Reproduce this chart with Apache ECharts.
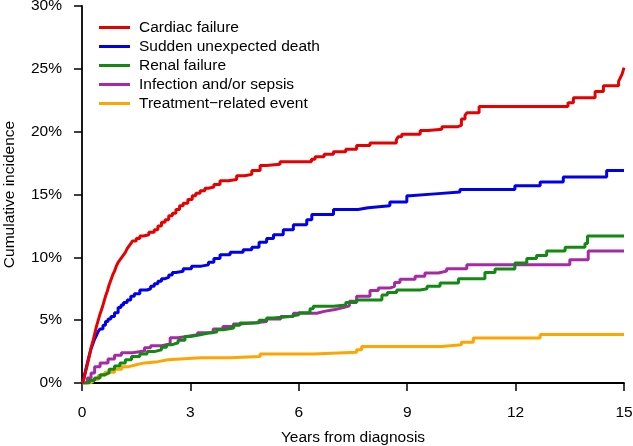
<!DOCTYPE html>
<html lang="en">
<head>
    <meta charset="UTF-8">
    <title>cumulative incidence</title>
    <script src="https://cdn.jsdelivr.net/npm/echarts@6/dist/echarts.min.js"></script>
    <style>
        html, body { margin: 0; padding: 0; background: #fff; }
    </style>
</head>
<body>
<div id="main" style="width:633px;height:446px"></div>
<script>
    // values: [years, cumulative incidence %]
    var xTicks = [0, 3, 6, 9, 12, 15];
    var names = ['Cardiac failure', 'Sudden unexpected death', 'Renal failure',
        'Infection and/or sepsis', 'Treatment\u2212related event'];

    var cardiac = [[0,0],[0.05,0.3],[0.1,0.9],[0.15,1.5],[0.2,2.1],[0.25,2.8],[0.3,3.3],[0.35,3.9],
        [0.4,4.5],[0.45,5.0],[0.5,5.5],[0.55,5.9],[0.6,6.4],[0.65,6.9],[0.7,7.3],[0.75,7.8],[0.8,8.2],
        [0.85,8.6],[0.9,8.9],[0.95,9.3],[1.0,9.6],[1.05,9.8],[1.1,10.0],[1.15,10.2],[1.2,10.4],[1.25,10.7],
        [1.3,10.9],[1.35,11.1],[1.4,11.3],[1.5,11.5],[1.6,11.7],[1.7,11.8],[1.85,12.0],[2.0,12.2],
        [2.1,12.5],[2.2,12.8],[2.3,13.0],[2.4,13.3],[2.5,13.5],[2.6,13.8],[2.7,14.1],[2.8,14.3],
        [2.93,14.6],[3.05,14.9],[3.15,15.1],[3.27,15.3],[3.4,15.5],[3.5,15.6],[3.65,15.8],[3.82,16.1],
        [4.05,16.2],[4.28,16.5],[4.5,16.6],[4.7,16.9],[4.93,17.3],[5.1,17.4],[5.48,17.6],[6.35,17.8],
        [6.45,18.0],[6.7,18.2],[6.96,18.4],[7.3,18.6],[7.6,18.9],[7.97,19.1],[8.7,19.35],[8.75,19.6],
        [8.85,19.8],[9.36,20.1],[9.58,20.2],[9.96,20.4],[10.4,20.5],[10.5,21.0],[10.6,21.3],[10.65,21.5],
        [10.99,22.0],[13.45,22.3],[13.6,22.7],[14.2,23.2],[14.43,23.65],[14.85,24.0],[14.9,24.3],
        [14.95,24.6],[14.98,24.9],[15,25.1]];
    var sudden = [[0,0],[0.05,0.4],[0.1,1.0],[0.15,1.6],[0.2,2.2],[0.25,2.7],[0.3,3.1],[0.35,3.5],
        [0.4,3.8],[0.45,4.1],[0.5,4.3],[0.58,4.6],[0.65,4.9],[0.72,5.1],[0.8,5.3],[0.9,5.6],[1.0,6.0],
        [1.08,6.2],[1.15,6.4],[1.25,6.6],[1.35,6.9],[1.45,7.1],[1.6,7.4],[1.8,7.5],[1.9,7.7],[2.0,7.9],
        [2.1,8.1],[2.2,8.3],[2.3,8.4],[2.4,8.6],[2.5,8.8],[2.6,8.9],[2.8,9.1],[3.03,9.3],[3.3,9.4],
        [3.5,9.6],[3.65,9.9],[3.82,10.2],[4.1,10.4],[4.46,10.6],[4.7,10.8],[4.9,11.2],[5.11,11.5],
        [5.3,11.8],[5.57,12.2],[5.85,12.6],[6.22,13.0],[6.36,13.4],[6.96,13.8],[7.64,13.95],[7.92,14.1],
        [8.52,14.4],[8.99,14.9],[9.08,15.05],[9.77,15.2],[10.46,15.4],[11.98,15.7],[12.68,16.0],
        [13.32,16.4],[14.52,16.9],[15,16.9]];
    var renal = [[0,0],[0.2,0.2],[0.35,0.4],[0.5,0.65],[0.63,0.8],[0.75,1.1],[0.9,1.35],[1.05,1.6],
        [1.2,1.85],[1.37,2.1],[1.6,2.3],[1.8,2.5],[2.0,2.65],[2.2,2.85],[2.34,3.05],[2.5,3.2],[2.66,3.4],
        [2.85,3.7],[3.0,3.84],[3.27,3.98],[3.5,4.05],[3.73,4.24],[3.91,4.37],[4.2,4.6],[4.37,4.77],
        [4.65,4.8],[4.9,5.0],[5.11,5.17],[5.29,5.3],[5.76,5.43],[6.0,5.6],[6.31,5.9],[6.4,6.1],[6.96,6.2],
        [7.3,6.4],[7.6,6.6],[8.3,7.0],[8.45,7.2],[8.71,7.4],[9.36,7.5],[9.55,7.7],[9.91,7.95],[10.42,8.3],
        [11.15,8.8],[11.43,9.07],[11.98,9.55],[12.31,9.9],[12.58,10.15],[12.86,10.5],[13.37,10.8],
        [13.92,11.1],[13.99,11.7],[15,11.7]];
    var infection = [[0,0],[0.15,0.4],[0.25,0.8],[0.35,1.3],[0.5,1.6],[0.72,1.9],[0.9,2.2],[1.09,2.4],
        [1.4,2.55],[1.73,2.8],[1.9,2.97],[2.2,3.1],[2.44,3.6],[2.66,3.7],[2.9,3.84],[3.2,4.0],[3.63,4.3],
        [3.9,4.5],[4.19,4.7],[4.37,4.8],[4.8,4.9],[5.11,5.1],[5.5,5.3],[5.85,5.55],[6.5,5.7],[6.7,5.85],
        [7.0,6.0],[7.23,6.15],[7.4,6.5],[7.6,6.9],[7.97,7.37],[8.2,7.55],[8.52,7.7],[8.65,8.0],[8.8,8.25],
        [9.22,8.5],[9.49,8.75],[9.86,8.9],[10.09,9.1],[10.65,9.4],[13.5,9.8],[14.01,10.5],[15,10.5]];
    var treatment = [[0,0],[0.2,0.1],[0.3,0.3],[0.45,0.6],[0.63,0.85],[0.9,1.1],[1.1,1.3],[1.3,1.45],
        [1.5,1.6],[1.73,1.7],[2.1,1.85],[2.38,2.0],[3.3,2.0],[4.1,2.1],[4.93,2.3],[6.4,2.45],[7.6,2.65],
        [7.74,2.9],[9.96,3.05],[10.5,3.25],[10.83,3.58],[12.68,3.85],[15,3.85]];

    var colors = ['#e60000', '#0000ee', '#128a12', '#a62aa6', '#ffa500'];
    var seriesData = [cardiac, sudden, renal, infection, treatment];

    var font = 'Liberation Sans, Arial, sans-serif';
    var fs = 15.5;
    var myChart = echarts.init(document.getElementById('main'));

    myChart.setOption({
        animation: false,
        textStyle: { fontFamily: font },
        grid: { left: 82, right: 9, top: 6, bottom: 63, outerBoundsMode: 'none' },
        legend: {
            orient: 'vertical',
            left: 94,
            top: 14,
            icon: 'rect',
            itemWidth: 31,
            itemHeight: 3,
            itemGap: 2,
            textStyle: { fontSize: fs, color: '#000', lineHeight: 17, padding: [0, 0, 0, 4] },
            data: names
        },
        xAxis: {
            type: 'value',
            min: 0, max: 15, interval: 3,
            name: 'Years from diagnosis',
            nameLocation: 'middle',
            nameGap: 47,
            nameTextStyle: { fontSize: fs, color: '#000' },
            axisLine: { lineStyle: { color: '#000', width: 1.8 } },
            axisTick: { length: 8, lineStyle: { color: '#000', width: 1.5 } },
            axisLabel: { fontSize: fs, color: '#000', margin: 22,
                formatter: function (v) { return xTicks.indexOf(v) >= 0 ? String(v) : ''; } },
            splitLine: { show: false }
        },
        yAxis: {
            type: 'value',
            min: 0, max: 30, interval: 5,
            name: 'Cumulative incidence',
            nameLocation: 'middle',
            nameGap: 64,
            nameTextStyle: { fontSize: fs, color: '#000' },
            axisLine: { show: true, lineStyle: { color: '#000', width: 1.8 } },
            axisTick: { show: true, length: 8, lineStyle: { color: '#000', width: 1.5 } },
            axisLabel: { fontSize: fs, color: '#000', margin: 20, formatter: '{value}%' },
            splitLine: { show: false }
        },
        series: names.map(function (n, i) {
            return {
                name: n,
                type: 'line',
                step: 'end',
                showSymbol: false,
                symbol: 'none',
                color: colors[i],
                lineStyle: { width: 3, color: colors[i] },
                z: 10 - i,
                data: seriesData[i]
            };
        })
    });
</script>
</body>
</html>
